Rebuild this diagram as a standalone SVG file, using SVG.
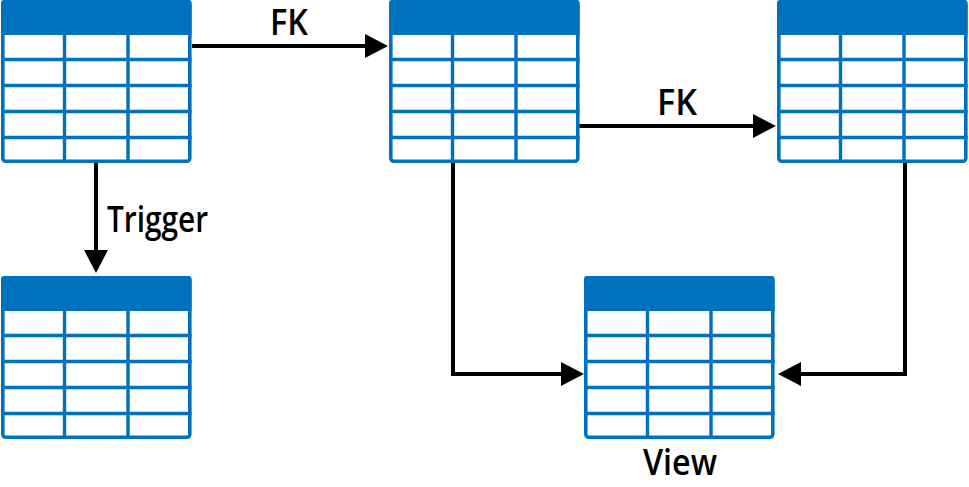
<svg xmlns="http://www.w3.org/2000/svg" width="969" height="487" viewBox="0 0 969 487">
<style>
.frame{fill:#ffffff;stroke:#0071BC;stroke-width:3.6}
.head{fill:#0071BC}
.grid{stroke:#0071BC;stroke-width:3.4;fill:none}
.conn{stroke:#000000;stroke-width:4;fill:none}
.head-arrow{fill:#000000}
.lbl{font-family:"Open Sans","Liberation Sans",Arial,sans-serif;font-size:36px;font-weight:600;fill:#000000}
</style>
<defs>
<g id="table">
<rect class="frame" x="1.8" y="1.8" width="187" height="159.5" rx="3"/>
<path class="head" d="M0,3 Q0,0 3,0 H187.6 Q190.6,0 190.6,3 V35 H0 Z"/>
<path class="grid" d="M0,59.5 H190.6 M0,85.5 H190.6 M0,111.5 H190.6 M0,137.5 H190.6 M63.5,35 V161 M127,35 V161"/>
</g>
</defs>
<g id="connectors">
<line class="conn" x1="192" y1="46" x2="367" y2="46"/>
<polygon class="head-arrow" points="365,34 388,46 365,58"/>
<line class="conn" x1="579" y1="126" x2="755" y2="126"/>
<polygon class="head-arrow" points="753,114 776,126 753,138"/>
<line class="conn" x1="96" y1="163" x2="96" y2="252"/>
<polygon class="head-arrow" points="84,250 108,250 96,273"/>
<path class="conn" d="M453,163 V374 H563"/>
<polygon class="head-arrow" points="561,362 584,374 561,386"/>
<path class="conn" d="M905,163 V374 H799"/>
<polygon class="head-arrow" points="801,362 778,374 801,386"/>
<text class="lbl" x="270" y="35" textLength="38" lengthAdjust="spacingAndGlyphs">FK</text>
<text class="lbl" x="657" y="115" textLength="40" lengthAdjust="spacingAndGlyphs">FK</text>
<text class="lbl" x="107" y="232" textLength="101" lengthAdjust="spacingAndGlyphs">Trigger</text>
</g>
<g id="table1"><use href="#table" x="1" y="0"/></g>
<g id="table2"><use href="#table" x="389" y="0"/></g>
<g id="table3"><use href="#table" x="777" y="0"/></g>
<g id="table4"><use href="#table" x="1" y="276"/></g>
<g id="view"><use href="#table" x="584" y="276"/>
<text class="lbl" x="643" y="475" textLength="74" lengthAdjust="spacingAndGlyphs">View</text></g>
</svg>
